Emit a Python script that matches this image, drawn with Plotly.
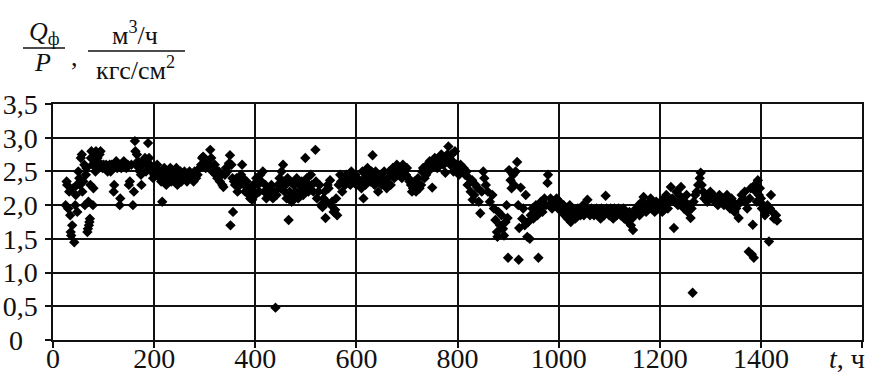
import plotly.graph_objects as go

# ---- data: t (hours) and Qf/P ratio ----
t_0_200 = [25,27,28,30,32,34,35,36,38,40,42,44,45,47,48,50,52,53,55,57,58,60,62,63,65,66,68,69,70,71,72,73,74,75,76,78,79,80,82,84,85,87,88,90,92,94,96,98,100,
           102,105,108,110,112,114,116,118,120,121,123,125,127,130,132,133,135,138,140,142,145,148,150,152,155,158,160,162,163,165,166,168,170,172,174,175,177,180,182,184,186,188,190,192,194,196,198,200]
q_0_200 = [2.0,2.35,2.3,1.95,2.2,1.85,1.6,1.55,1.7,2.25,1.45,2.0,2.15,2.3,1.9,2.5,2.4,2.3,2.7,2.75,2.2,2.35,2.6,2.0,2.45,2.55,1.6,1.65,2.05,1.7,1.75,1.8,2.3,2.7,2.8,2.6,2.0,2.25,2.75,2.5,2.8,2.65,2.7,2.55,2.75,2.8,2.6,2.55,2.6,
           2.55,2.6,2.5,2.55,2.6,2.5,2.6,2.55,2.2,2.3,2.6,2.65,2.55,2.6,2.0,2.1,2.55,2.6,2.65,2.6,2.55,2.6,2.3,2.35,2.6,2.0,2.2,2.95,2.8,2.6,2.75,2.65,2.55,2.5,2.45,2.3,2.6,2.65,2.7,2.5,2.6,2.92,2.7,2.6,2.55,2.5,2.4,2.45]

t_200_400 = [202,204,206,208,210,212,214,216,218,220,222,224,226,228,230,232,234,236,238,240,242,244,246,248,250,252,254,256,258,260,262,265,268,270,272,275,278,280,283,286,290,293,295,297,300,
             302,305,308,311,313,315,318,320,322,325,328,330,333,335,337,340,342,345,348,350,351,353,355,356,358,360,363,365,368,370,372,374,376,378,380,383,385,388,390,392,394,396,398,400]
q_200_400 = [2.55,2.5,2.6,2.45,2.5,2.4,2.35,2.05,2.5,2.55,2.4,2.3,2.45,2.5,2.4,2.55,2.35,2.5,2.45,2.4,2.5,2.55,2.3,2.45,2.4,2.5,2.35,2.45,2.4,2.5,2.45,2.35,2.4,2.5,2.45,2.4,2.35,2.5,2.4,2.45,2.55,2.6,2.7,2.72,2.6,
             2.55,2.65,2.6,2.82,2.7,2.5,2.55,2.6,2.45,2.4,2.5,2.35,2.45,2.3,2.27,2.45,2.55,2.5,2.62,2.74,1.7,2.6,2.4,1.9,2.35,2.3,2.4,2.2,2.35,2.3,2.45,2.6,2.4,2.3,2.2,2.35,2.25,2.15,2.1,2.2,2.08,2.3,2.2,2.15]

t_400_600 = [402,405,408,410,412,415,418,420,422,425,428,430,432,435,438,440,442,445,448,450,452,455,456,458,460,462,464,466,468,470,472,474,476,478,480,482,485,487,490,492,495,497,499,500,
             502,505,507,510,512,515,519,520,522,525,527,530,533,535,537,539,541,543,545,548,550,552,555,558,560,562,565,568,570,572,575,578,580,582,585,588,590,592,595,598,600]
q_400_600 = [2.4,2.3,2.2,2.45,2.35,2.5,2.2,2.3,2.1,2.25,2.15,2.2,2.3,2.1,2.2,0.48,2.15,2.3,2.4,2.25,2.5,2.6,2.35,2.2,2.3,2.1,2.4,1.78,2.2,2.35,2.05,2.15,2.3,2.1,2.2,2.4,2.1,2.3,2.2,2.35,2.15,2.25,2.7,2.3,
             2.4,2.2,2.3,2.45,2.3,2.2,2.82,2.35,2.1,2.2,2.3,2.0,1.97,2.1,2.2,1.81,2.05,2.3,2.25,2.37,2.0,2.05,1.9,1.93,2.1,1.85,2.3,2.45,2.35,2.2,2.4,2.3,2.45,2.35,2.4,2.3,2.5,2.4,2.35,2.45,2.3]

t_600_800 = [602,605,608,610,612,614,616,618,620,622,625,628,630,632,634,636,638,640,643,645,648,650,652,655,657,660,662,665,668,670,672,675,678,680,682,685,688,690,692,695,698,700,
             703,705,708,710,712,715,718,720,722,725,728,730,732,735,738,740,742,745,748,750,752,755,758,760,762,765,768,770,772,775,776,778,780,782,784,786,788,790,792,795,798,800]
q_600_800 = [2.4,2.3,2.35,2.25,2.5,2.1,2.4,2.3,2.45,2.55,2.4,2.35,2.5,2.74,2.45,2.3,2.5,2.4,2.2,2.35,2.45,2.3,2.4,2.5,2.35,2.25,2.4,2.5,2.3,2.45,2.55,2.4,2.5,2.6,2.45,2.55,2.5,2.4,2.6,2.5,2.45,2.55,
             2.4,2.35,2.3,2.2,2.25,2.35,2.2,2.3,2.4,2.25,2.3,2.5,2.55,2.4,2.45,2.6,2.5,2.65,2.55,2.26,2.6,2.7,2.65,2.55,2.7,2.6,2.75,2.65,2.6,2.7,2.48,2.65,2.75,2.87,2.7,2.6,2.75,2.65,2.5,2.8,2.6,2.55]

t_800_1000 = [803,806,809,812,815,818,820,823,826,829,830,833,836,839,842,845,848,851,853,856,860,864,869,872,875,878,879,881,884,887,890,892,895,897,899,900,
              902,905,907,910,912,915,918,920,921,922,925,928,930,933,935,938,940,943,945,948,950,953,955,958,960,962,965,968,970,972,975,978,979,981,984,987,990,993,996,999]
q_800_1000 = [2.45,2.6,2.5,2.55,2.45,2.5,2.3,2.4,2.2,2.37,2.08,2.15,2.3,2.26,2.05,1.88,2.2,2.5,2.4,2.3,2.2,2.05,2.15,1.95,1.78,1.6,1.53,1.9,1.7,1.85,1.65,1.55,1.75,2.0,1.81,1.22,
              2.52,2.37,2.25,2.45,2.3,2.5,2.64,2.0,1.19,1.66,2.26,1.8,1.95,1.7,2.15,1.53,1.75,1.5,1.85,1.95,1.8,1.9,2.0,1.85,1.22,1.95,2.05,1.9,2.0,2.1,2.0,2.33,2.45,2.0,2.1,1.95,2.05,2.0,2.1,1.95]

t_1000_1200 = [1002,1005,1008,1010,1012,1015,1018,1020,1022,1024,1026,1028,1030,1033,1035,1038,1040,1043,1045,1048,1050,1053,1055,1057,1060,1062,1065,1068,1070,1073,1075,1078,1080,1083,1085,1088,1090,1093,1095,1098,
               1100,1103,1105,1108,1110,1113,1115,1118,1120,1123,1125,1128,1130,1133,1135,1138,1140,1143,1145,1147,1150,1153,1155,1158,1160,1163,1165,1168,1170,1173,1175,1178,1180,1182,1185,1188,1190,1193,1196,1199]
q_1000_1200 = [2.05,1.95,1.9,2.0,1.85,1.95,1.8,1.9,2.0,1.75,1.85,1.95,1.9,1.8,1.85,1.95,1.9,1.85,1.95,2.0,1.85,1.9,1.95,2.08,1.9,1.85,1.95,1.9,1.85,1.9,1.95,1.85,1.9,1.8,1.95,1.9,1.85,2.14,1.95,1.9,
               1.85,1.95,1.9,1.8,1.95,1.9,1.85,1.95,1.9,1.85,1.9,1.95,1.8,1.9,1.85,1.75,1.9,1.7,1.8,1.63,1.85,1.95,1.9,2.0,1.85,1.95,2.05,2.12,1.95,1.9,2.0,1.95,2.05,2.1,1.95,2.0,1.9,2.05,2.0,1.95]

t_1200_1450 = [1202,1205,1208,1210,1213,1216,1219,1222,1225,1228,1230,1233,1236,1238,1240,1242,1245,1248,1250,1253,1255,1258,1261,1263,1265,1267,1270,1273,1276,1279,1281,1283,1286,1288,1291,1294,1297,
               1300,1303,1306,1309,1312,1315,1318,1321,1324,1327,1330,1333,1336,1339,1342,1345,1348,1351,1354,1356,1359,1362,1365,1368,1370,1373,1376,1378,1380,1382,1384,1386,1388,1390,1392,1394,1396,1398,
               1400,1402,1405,1408,1410,1413,1416,1418,1420,1423,1426,1430,1432]
q_1200_1450 = [2.05,1.9,2.1,2.0,2.15,1.95,2.05,2.27,2.1,1.66,2.05,2.2,2.0,2.15,2.05,2.27,2.1,1.95,2.05,2.15,1.9,2.0,1.81,1.95,0.7,2.05,2.15,2.2,2.3,2.4,2.48,2.3,2.2,2.1,2.15,2.05,2.1,
               2.2,2.1,2.15,2.05,2.1,2.0,2.15,2.05,2.1,2.0,2.05,2.15,2.0,1.95,2.1,2.05,1.9,1.95,2.0,1.81,2.05,2.15,2.1,2.2,2.05,1.95,1.31,2.1,2.25,1.27,1.71,1.22,2.3,2.2,2.05,2.37,2.15,2.25,
               2.1,1.95,2.0,1.85,1.9,2.0,1.46,1.95,2.15,1.9,1.8,1.85,1.77]

t_hours = t_0_200 + t_200_400 + t_400_600 + t_600_800 + t_800_1000 + t_1000_1200 + t_1200_1450
q_ratio = q_0_200 + q_200_400 + q_400_600 + q_600_800 + q_800_1000 + q_1000_1200 + q_1200_1450

x_ticks = [0, 200, 400, 600, 800, 1000, 1200, 1400, 1600]
x_tick_labels = ["0", "200", "400", "600", "800", "1000", "1200", "1400", ""]
y_ticks = [0, 0.5, 1.0, 1.5, 2.0, 2.5, 3.0, 3.5]
y_tick_labels = ["", "0,5", "1,0", "1,5", "2,0", "2,5", "3,0", "3,5"]

W, H = 896, 384
ML, MR, MT, MB = 53, 34, 104, 44
PW, PH = W - ML - MR, H - MT - MB

def px(xp):
    return (xp - ML) / PW

def py(yp):
    return (H - MB - yp) / PH

FONT = "Liberation Serif"
INK = "#111"

fig = go.Figure()
fig.add_trace(go.Scatter(
    x=t_hours, y=q_ratio, mode="markers",
    marker=dict(symbol="diamond", size=8, color="black", line=dict(width=0)),
    showlegend=False, cliponaxis=False,
))

axis_common = dict(
    automargin=False,
    showgrid=True, gridcolor=INK, gridwidth=1.5,
    showline=True, linecolor=INK, linewidth=1.5, mirror=True,
    ticks="outside", ticklen=6, tickwidth=1.5, tickcolor=INK,
    zeroline=False,
    tickfont=dict(family=FONT, size=28, color=INK),
)

fig.update_xaxes(range=[0, 1600], tickvals=x_ticks, ticktext=x_tick_labels, ticklabelstandoff=-13, **axis_common)
fig.update_yaxes(range=[0, 3.5], tickvals=y_ticks, ticktext=y_tick_labels, ticklabelstandoff=2, **axis_common)

ann_font = dict(family=FONT, size=28, color=INK)
small_font = dict(family=FONT, size=26, color=INK)
annotations = [
    dict(text="0", x=px(7), y=py(340), xanchor="left", yanchor="middle"),
    dict(text="<i>t</i>, ч", x=px(847), y=py(358), xanchor="center", yanchor="middle"),
    dict(text="<i>Q</i><sub>ф</sub>", x=px(44), y=py(33), xanchor="center", yanchor="middle", font=small_font),
    dict(text="<i>P</i>", x=px(42), y=py(62), xanchor="center", yanchor="middle", font=small_font),
    dict(text=",", x=px(74), y=py(57), xanchor="center", yanchor="middle", font=small_font),
    dict(text="м<sup>3</sup>/ч", x=px(135), y=py(34), xanchor="center", yanchor="middle", font=small_font),
    dict(text="кгс/см<sup>2</sup>", x=px(135), y=py(68), xanchor="center", yanchor="middle", font=small_font),
]
for a in annotations:
    a.setdefault("font", ann_font)
    a.update(xref="paper", yref="paper", showarrow=False)

shapes = [
    dict(type="line", xref="paper", yref="paper", x0=px(23), x1=px(65), y0=py(48), y1=py(48), line=dict(color=INK, width=1.5)),
    dict(type="line", xref="paper", yref="paper", x0=px(88), x1=px(185), y0=py(51), y1=py(51), line=dict(color=INK, width=1.5)),
]

fig.update_layout(
    width=W, height=H,
    margin=dict(l=ML, r=MR, t=MT, b=MB, pad=0, autoexpand=False),
    paper_bgcolor="white", plot_bgcolor="white",
    annotations=annotations, shapes=shapes,
)

fig.write_html("out.html")
